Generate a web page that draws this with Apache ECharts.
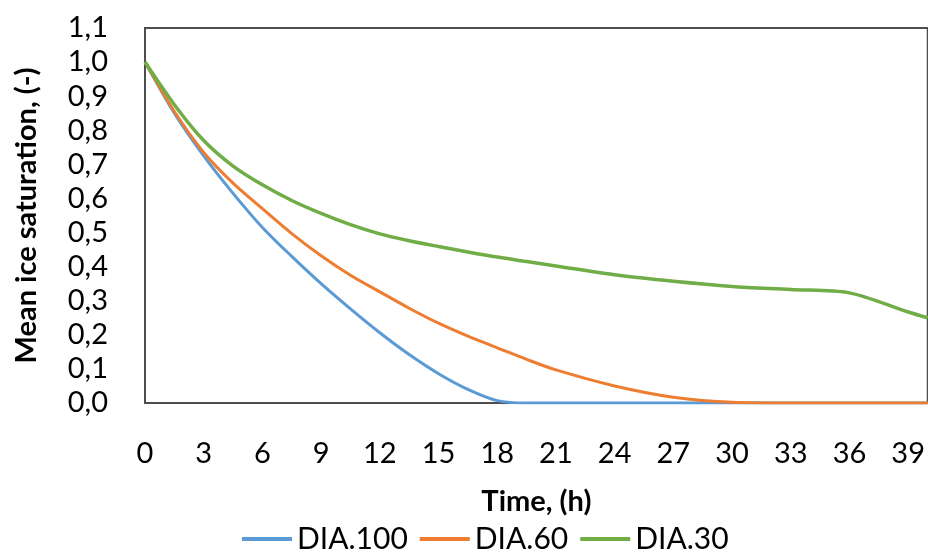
<!DOCTYPE html>
<html>
<head>
<meta charset="utf-8">
<script src="https://cdn.jsdelivr.net/npm/echarts@6/dist/echarts.min.js"></script>
<style>
  html, body { margin: 0; padding: 0; background: #fff; }
  #chart { width: 928px; height: 554px; }
</style>
</head>
<body>
<div id="chart"></div>
<script>
// time in hours
const hours = [0, 1.5, 3, 4.5, 6, 7.5, 9, 10.5, 12, 13.5, 15, 16.5, 18, 19.5, 21, 24, 27, 30, 33, 36, 39, 40];
// mean ice saturation per series
const dia100 = [1.0, 0.85, 0.725, 0.615, 0.515, 0.43, 0.35, 0.276, 0.206, 0.142, 0.086, 0.04, 0.007, 0, 0, 0, 0, 0, 0, 0, 0, 0];
const dia60 = [1.0, 0.855, 0.735, 0.645, 0.57, 0.497, 0.432, 0.375, 0.326, 0.278, 0.234, 0.196, 0.162, 0.128, 0.097, 0.05, 0.017, 0.002, 0, 0, 0, 0];
const dia30 = [1.0, 0.875, 0.77, 0.695, 0.64, 0.594, 0.556, 0.523, 0.496, 0.476, 0.459, 0.443, 0.428, 0.415, 0.402, 0.376, 0.357, 0.342, 0.333, 0.323, 0.267, 0.25];
const seriesNames = ["DIA.100", "DIA.60", "DIA.30"];

const font = "Lato";

function pairs(vals) {
  return hours.map((h, i) => [h, vals[i]]);
}

const chart = echarts.init(document.getElementById("chart"));

chart.setOption({
  animation: false,
  grid: {
    left: 145,
    right: -5,
    top: 28,
    bottom: 151,
    show: true,
    borderColor: "#4d4d4d",
    borderWidth: 2,
  },
  legend: {
    left: 237,
    top: 519,
    itemWidth: 50,
    itemHeight: 4,
    itemGap: 12,
    icon: "rect",
    textStyle: { fontFamily: font, fontSize: 30, color: "#000" },
    data: seriesNames,
  },
  xAxis: {
    type: "value",
    min: 0,
    max: 40,
    interval: 3,
    name: "Time, (h)",
    nameLocation: "middle",
    nameGap: 84,
    nameTextStyle: { fontFamily: font, fontSize: 29, fontWeight: "bold", color: "#000" },
    axisLine: { show: true, lineStyle: { color: "#4d4d4d", width: 2 } },
    axisTick: { show: false },
    splitLine: { show: false },
    axisLabel: {
      fontFamily: font,
      fontSize: 29,
      color: "#000",
      margin: 36,
      showMaxLabel: false,
    },
  },
  yAxis: {
    type: "value",
    min: 0,
    max: 1.1,
    interval: 0.1,
    name: "Mean ice saturation, (-)",
    nameLocation: "middle",
    nameGap: 104,
    nameTextStyle: { fontFamily: font, fontSize: 29, fontWeight: "bold", color: "#000" },
    axisLine: { show: false },
    axisTick: { show: false },
    splitLine: { show: false },
    axisLabel: {
      fontFamily: font,
      fontSize: 29,
      color: "#000",
      margin: 37,
      formatter: (v) => v.toFixed(1).replace(".", ","),
    },
  },
  color: ["#5B9BD5", "#ED7D31", "#70AD47"],
  series: [
    { name: seriesNames[0], type: "line", data: pairs(dia100), showSymbol: false, smooth: 0.3, lineStyle: { width: 3 } },
    { name: seriesNames[1], type: "line", data: pairs(dia60), showSymbol: false, smooth: 0.3, lineStyle: { width: 3 } },
    { name: seriesNames[2], type: "line", data: pairs(dia30), showSymbol: false, smooth: 0.3, lineStyle: { width: 3.5 } },
  ],
});
</script>
</body>
</html>
